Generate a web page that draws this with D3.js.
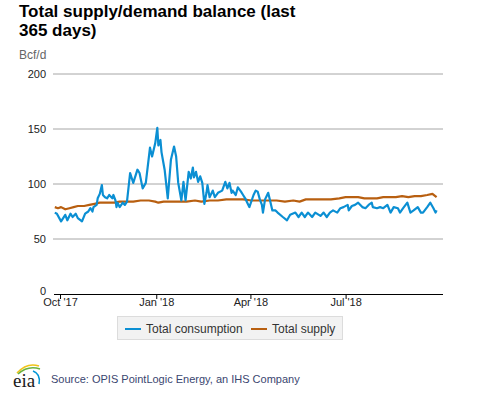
<!DOCTYPE html>
<html>
<head>
<meta charset="utf-8">
<script src="https://cdn.jsdelivr.net/npm/d3@7"></script>
<style>
  html, body { margin: 0; padding: 0; background: #fff; }
  svg { display: block; font-family: Arial, "Liberation Sans", sans-serif; }
</style>
</head>
<body>
<svg id="chart" width="477" height="393"></svg>
<script>
// ---- data ----
const seriesStart = "2017-09-26";           // first day of the 365-day window
const seriesEnd = "2018-09-26";
const yTicks = [0, 50, 100, 150, 200];
const xTickDates = ["2017-10-01", "2018-01-01", "2018-04-01", "2018-07-01"];
const xTickLabels = ["Oct '17", "Jan '18", "Apr '18", "Jul '18"];
const seriesNames = ["Total consumption", "Total supply"];

// days since seriesStart, and Bcf/d values
const consumptionDay = [0,2,6,8,10,12,15,17,20,22,26,29,32,34,36,37,40,41,43,45,46,48,50,52,55,56,58,59,60,62,65,67,69,72,75,79,81,84,87,91,93,96,98,99,101,102,105,108,111,114,116,118,121,123,125,128,130,132,133,135,137,139,141,143,145,146,148,151,153,156,160,163,165,167,169,170,173,175,178,180,182,184,186,190,192,194,196,198,199,201,203,204,206,208,211,213,218,222,225,230,233,236,239,242,246,249,254,257,260,263,266,270,273,276,280,281,284,287,290,294,297,300,303,304,308,311,314,318,321,324,328,330,333,337,340,343,347,350,352,356,359,362,364,365];
const consumptionVal = [74,73,66,69,72,67,73,70,73,69,66,73,75,78,75,79,81,87,91,99,90,88,87,90,87,90,85,79,83,79,83,81,84,110,101,113,110,96,101,133,125,137,151,135,140,129,113,87,122,134,125,101,85,102,85,111,105,115,106,111,102,107,101,82,92,99,88,94,88,92,94,102,96,101,92,94,90,97,93,90,87,83,79,90,94,93,86,81,74,86,90,92,84,76,76,74,70,67,72,74,70,74,70,74,70,74,71,74,70,74,76,74,78,79,81,76,80,81,83,79,78,81,83,79,78,79,78,81,74,79,78,74,78,83,74,76,79,74,74,79,83,78,74,76];

const supplyDay = [0,3,6,10,14,18,22,28,33,38,43,50,57,62,68,75,82,90,96,99,104,110,118,126,134,140,148,156,164,172,180,188,196,204,212,220,228,234,240,248,256,264,272,278,284,290,296,302,308,314,320,326,332,338,344,350,356,361,365];
const supplyVal = [79,78,79,77,78,79,80,80,81,82,83,83,83,84,84,84,85,85,84,83,84,84,84,84,85,84,85,85,86,86,86,85,85,85,85,84,85,84,86,86,86,86,87,88,88,88,87,87,87,88,88,88,89,88,89,89,90,91,88];

// ---- drawing ----
const blue = "#0b8fd3";
const orange = "#b85f10";
const svg = d3.select("#chart");
const parse = d3.utcParse("%Y-%m-%d");
const t0 = parse(seriesStart);
const toDate = d => d3.utcDay.offset(t0, d);

const x = d3.scaleUtc().domain([t0, parse(seriesEnd)]).range([54.8, 436.6]);
const y = d3.scaleLinear().domain([0, 200]).range([294, 74]);
const gridL = 53, gridR = 443;

// title
svg.append("text").attr("x", 19).attr("y", 17)
  .attr("font-size", 17).attr("font-weight", "bold").attr("fill", "#000")
  .text("Total supply/demand balance (last");
svg.append("text").attr("x", 19).attr("y", 36)
  .attr("font-size", 17).attr("font-weight", "bold").attr("fill", "#000")
  .text("365 days)");
svg.append("text").attr("x", 19).attr("y", 59)
  .attr("font-size", 12).attr("fill", "#666").text("Bcf/d");

// gridlines and y labels
const gy = svg.append("g");
yTicks.forEach(v => {
  if (v > 0) {
    gy.append("line").attr("x1", gridL).attr("x2", gridR)
      .attr("y1", y(v)).attr("y2", y(v))
      .attr("stroke", "#a6a6a6").attr("stroke-width", 1);
  }
  gy.append("text").attr("x", 46).attr("y", y(v) + (v === 0 ? 1 : 4))
    .attr("text-anchor", "end").attr("font-size", 11).attr("fill", "#222")
    .text(v);
});

// x axis
const xTicks = xTickDates.map(parse);
const xAxis = d3.axisBottom(x).tickValues(xTicks)
  .tickFormat((d, i) => xTickLabels[i]).tickSizeOuter(0).tickSize(5);
const gx = svg.append("g").attr("transform", `translate(0,${y(0)})`).call(xAxis);
gx.select(".domain").attr("d", `M${gridL + 1},0.5H${gridR}`).attr("stroke", "#000");
gx.selectAll(".tick line").attr("stroke", "#000");
gx.selectAll(".tick text").attr("font-size", 11).attr("fill", "#222")
  .attr("font-family", "Arial, 'Liberation Sans', sans-serif").attr("dy", "0.55em").attr("y", 6);

// lines
const line = d3.line().x(d => x(d[0])).y(d => y(d[1])).curve(d3.curveLinear);
const cons = consumptionDay.map((d, i) => [toDate(d), consumptionVal[i]]);
const sup = supplyDay.map((d, i) => [toDate(d), supplyVal[i]]);
svg.append("path").datum(sup).attr("d", line).attr("fill", "none")
  .attr("stroke", orange).attr("stroke-width", 2.2).attr("stroke-linejoin", "round");
svg.append("path").datum(cons).attr("d", line).attr("fill", "none")
  .attr("stroke", blue).attr("stroke-width", 2.2).attr("stroke-linejoin", "round");

// legend
const lg = svg.append("g");
lg.append("rect").attr("x", 117.5).attr("y", 316.5).attr("width", 225).attr("height", 23)
  .attr("fill", "#f2f2f2").attr("stroke", "#dcdcdc");
const legendItems = [[125, 146, blue], [251, 272, orange]];
seriesNames.forEach((n, i) => {
  const [sx, tx, c] = legendItems[i];
  lg.append("line").attr("x1", sx).attr("x2", sx + 16).attr("y1", 329).attr("y2", 329)
    .attr("stroke", c).attr("stroke-width", 2);
  lg.append("text").attr("x", tx).attr("y", 333).attr("font-size", 12)
    .attr("fill", "#333").text(n);
});

// eia logo and source
const logo = svg.append("g");
logo.append("path").attr("d", "M17,373 Q27,362 39,366").attr("fill", "none")
  .attr("stroke", "#f0c419").attr("stroke-width", 1.6);
logo.append("path").attr("d", "M18,374 Q28,365 40,369").attr("fill", "none")
  .attr("stroke", "#6cb33f").attr("stroke-width", 1.6);
logo.append("path").attr("d", "M33,371 Q41,374 39,384").attr("fill", "none")
  .attr("stroke", "#0096d7").attr("stroke-width", 1.6);
logo.append("text").attr("x", 13).attr("y", 387)
  .attr("font-family", "'Liberation Serif', 'DejaVu Serif', serif")
  .attr("font-size", 19).attr("fill", "#1a1a1a").text("eia");
svg.append("text").attr("x", 51).attr("y", 383).attr("font-size", 11)
  .attr("fill", "#3a4670").text("Source: OPIS PointLogic Energy, an IHS Company");
</script>
</body>
</html>
